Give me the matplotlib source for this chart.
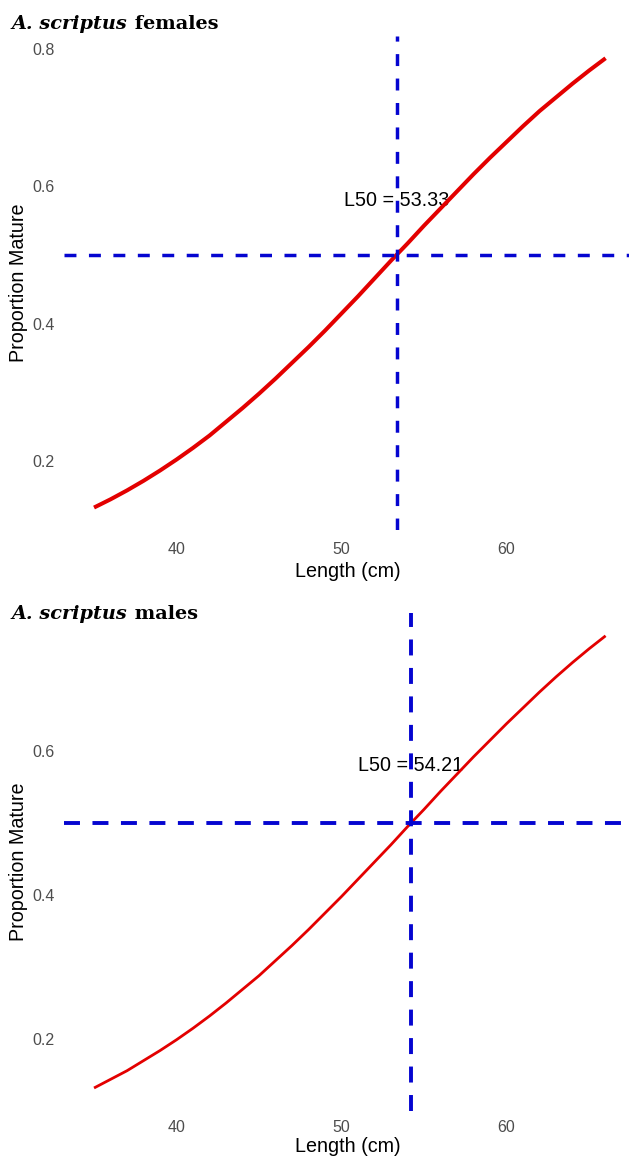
import matplotlib
matplotlib.use("Agg")
import matplotlib.pyplot as plt

# ---------------- data ----------------
length_f = [35, 36, 37, 38, 39, 40, 41, 42, 43, 44, 45, 46, 47, 48, 49, 50,
            51, 52, 53, 54, 55, 56, 57, 58, 59, 60, 61, 62, 63, 64, 65, 66]
prop_f = [0.132, 0.144, 0.157, 0.171, 0.186, 0.202, 0.219, 0.237, 0.257,
          0.277, 0.298, 0.320, 0.343, 0.366, 0.390, 0.415, 0.440, 0.466,
          0.492, 0.517, 0.543, 0.568, 0.593, 0.618, 0.642, 0.665, 0.688,
          0.710, 0.730, 0.750, 0.769, 0.787]
length_m = [35, 36, 37, 38, 39, 40, 41, 42, 43, 44, 45, 46, 47, 48, 49, 50,
            51, 52, 53, 54, 55, 56, 57, 58, 59, 60, 61, 62, 63, 64, 65, 66]
prop_m = [0.132, 0.144, 0.156, 0.170, 0.184, 0.199, 0.215, 0.232, 0.250,
          0.269, 0.288, 0.309, 0.330, 0.352, 0.375, 0.398, 0.422, 0.446,
          0.470, 0.495, 0.519, 0.544, 0.568, 0.592, 0.615, 0.638, 0.660,
          0.682, 0.703, 0.723, 0.742, 0.760]
l50_f = 53.33
l50_m = 54.21
half = 0.5
label_y = 0.58
x_ticks = [40, 50, 60]
y_ticks_f = [0.2, 0.4, 0.6, 0.8]
y_ticks_m = [0.2, 0.4, 0.6]
title_species = "A. scriptus"
title_f = " females"
title_m = " males"
xlabel = "Length (cm)"
ylabel = "Proportion Mature"

# ---------------- layout ----------------
W, H, DPI = 629, 1158, 100
fig = plt.figure(figsize=(W / DPI, H / DPI), dpi=DPI, facecolor="white")

SANS = ["Liberation Sans", "DejaVu Sans"]
SERIF = ["DejaVu Serif"]
RED = "#E30000"
BLUE = "#0505D0"


def px_axes(l, r, t, b):
    return fig.add_axes([l / W, 1 - b / H, (r - l) / W, (b - t) / H])


def style(ax, yticks, xpad, ypad):
    for s in ax.spines.values():
        s.set_visible(False)
    ax.set_xticks(x_ticks)
    ax.set_yticks(yticks)
    ax.set_xticklabels([str(v) for v in x_ticks])
    ax.set_yticklabels([f"{v:.1f}" for v in yticks])
    ax.tick_params(axis="x", length=0, pad=xpad, labelsize=11.5, labelcolor="#4D4D4D")
    ax.tick_params(axis="y", length=0, pad=ypad, labelsize=11.5, labelcolor="#4D4D4D")
    for lab in ax.get_xticklabels() + ax.get_yticklabels():
        lab.set_family(SANS)
    ax.set_facecolor("white")


def panel(box, xlim, ylim, lengths, props, l50, yticks, lw_curve, lw_ref, dash,
          xpad, ypad, xlab_y, ylab_x):
    ax = px_axes(*box)
    ax.set_xlim(*xlim)
    ax.set_ylim(*ylim)
    ax.text(l50, label_y, f"L50 = {l50:.2f}", ha="center", va="center",
            fontsize=14.2, family=SANS, color="black", zorder=1)
    ax.plot(lengths, props, color=RED, lw=lw_curve, solid_capstyle="butt",
            solid_joinstyle="round", zorder=2)
    ax.axvline(l50, color=BLUE, lw=lw_ref, linestyle=(0, dash),
               dash_capstyle="butt", zorder=3)
    ax.axhline(half, color=BLUE, lw=lw_ref, linestyle=(0, dash),
               dash_capstyle="butt", zorder=3)
    style(ax, yticks, xpad, ypad)
    ax.set_xlabel(xlabel, fontsize=14.2, family=SANS, color="black", va="baseline")
    ax.xaxis.set_label_coords(0.5, xlab_y)
    ax.set_ylabel(ylabel, fontsize=14.2, family=SANS, color="black")
    ax.yaxis.set_label_coords(ylab_x, 0.5)
    return ax


# top panel (females)
lw_f = 2.5
panel(box=(64, 632, 35.7, 530.4), xlim=(33.18, 67.6), ylim=(0.0987, 0.8198),
      lengths=length_f, props=prop_f, l50=l50_f, yticks=y_ticks_f,
      lw_curve=2.9, lw_ref=lw_f, dash=(8.6 / lw_f, 9.0 / lw_f),
      xpad=8.3, ypad=7.0, xlab_y=(530.4 - 576.7) / 494.7, ylab_x=(28 - 64) / 568)

# bottom panel (males)
lw_m = 2.8
panel(box=(64, 632, 613.2, 1110.6), xlim=(33.18, 67.6), ylim=(0.1006, 0.7914),
      lengths=length_m, props=prop_m, l50=l50_m, yticks=y_ticks_m,
      lw_curve=2.0, lw_ref=lw_m, dash=(11.5 / lw_m, 9.0 / lw_m),
      xpad=6.8, ypad=6.5, xlab_y=(1110.6 - 1152) / 497.4, ylab_x=(28 - 64) / 568)

# ---------------- panel titles ----------------
fig.canvas.draw()
renderer = fig.canvas.get_renderer()
TITLE_SIZE = 13.9


def title(x_px, base_px, rest):
    t1 = fig.text(x_px / W, 1 - base_px / H, title_species, family=SERIF,
                  style="italic", weight="bold", fontsize=TITLE_SIZE, va="baseline",
                  ha="left", color="black")
    bb = t1.get_window_extent(renderer)
    fig.text(bb.x1 / W, 1 - base_px / H, rest, family=SERIF, weight="bold",
             fontsize=TITLE_SIZE, va="baseline", ha="left", color="black")


title(12.0, 28.6, title_f)
title(12.0, 619.3, title_m)

fig.savefig("out.png", dpi=DPI, facecolor="white")
